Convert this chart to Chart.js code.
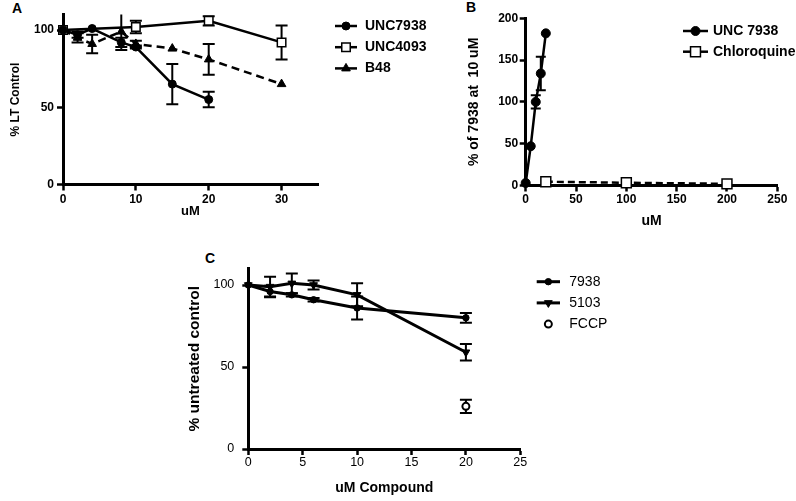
<!DOCTYPE html>
<html>
<head>
<meta charset="utf-8">
<script src="https://cdn.jsdelivr.net/npm/chart.js@4/dist/chart.umd.min.js"></script>
<style>
  body{margin:0;background:#fff;width:796px;height:501px;position:relative;overflow:hidden;
       font-family:"Liberation Sans",Arial,sans-serif}
  canvas{position:absolute}
  .tag{position:absolute;font-weight:bold;font-size:14px;line-height:14px;color:#000}
</style>
</head>
<body>
<div class="tag" style="left:12px;top:1px">A</div>
<div class="tag" style="left:466px;top:0px">B</div>
<div class="tag" style="left:205px;top:251px">C</div>
<canvas id="chartA" width="450" height="240" style="left:0;top:0;width:450px;height:240px"></canvas>
<canvas id="chartB" width="346" height="240" style="left:450px;top:0;width:346px;height:240px"></canvas>
<canvas id="chartC" width="616" height="261" style="left:180px;top:240px;width:616px;height:261px"></canvas>
<script>
/* ------------- Panel A : % LT Control ------------- */
const A_X_7938 = [0, 2, 4, 8, 10, 15, 20];
const A_Y_7938 = [100, 97, 101, 92, 89, 65, 55];
const A_E_7938 = [0, 2, 0, 3, 1, 13, 5];
const A_X_4093 = [0, 10, 20, 30];
const A_Y_4093 = [100, 102, 106, 92];
const A_E_4093 = [0, 4, 3, 11];
const A_X_B48  = [0, 2, 4, 8, 10, 15, 20, 30];
const A_Y_B48  = [100, 95, 91, 99, 91, 88, 81, 65];
const A_E_B48  = [0, 3, 6, 12, 2, 0, 10, 0];
const A_X_TICKS = [0, 10, 20, 30];
const A_Y_TICKS = [0, 50, 100];

/* ------------- Panel B : % of 7938 at 10 uM ------------- */
const B_X_7938 = [0, 5, 10, 15, 20];
const B_Y_7938 = [3, 47, 100, 134, 182];
const B_E_7938 = [0, 0, 8, 20, 0];
const B_X_CQ   = [20, 100, 200];
const B_Y_CQ   = [4.5, 3.3, 2];
const B_E_CQ   = [2, 0, 0];
const B_X_TICKS = [0, 50, 100, 150, 200, 250];
const B_Y_TICKS = [0, 50, 100, 150, 200];

/* ------------- Panel C : % untreated control ------------- */
const C_X      = [0, 2, 4, 6, 10, 20];
const C_Y_7938 = [100, 96, 94, 91, 86, 80];
const C_E_7938 = [0, 3.5, 1, 1, 7, 3];
const C_Y_5103 = [100, 99, 101, 100, 94, 59];
const C_E_5103 = [0, 6, 6, 2.7, 7, 5];
const C_X_FCCP = [20];
const C_Y_FCCP = [26];
const C_E_FCCP = [4];
const C_X_TICKS = [0, 5, 10, 15, 20, 25];
const C_Y_TICKS = [0, 50, 100];

const FONT = "'Liberation Sans', Arial, sans-serif";
const pts = (xs, ys) => xs.map((x, i) => ({x, y: ys[i]}));

/* error bars, drawn under the markers */
const errorBars = {
  id: "errorBars",
  beforeDatasetsDraw(chart){
    const {ctx, chartArea: ca, scales: {x, y}} = chart;
    ctx.save();
    ctx.beginPath();
    ctx.rect(ca.left - 30, ca.top, ca.right - ca.left + 60, ca.bottom - ca.top + 30);
    ctx.clip();
    ctx.strokeStyle = "#000";
    chart.data.datasets.forEach(ds => {
      if(!ds.errors) return;
      ctx.lineWidth = ds.errWidth || 2;
      const cap = ds.capHalf || 5;
      ds.data.forEach((p, i) => {
        const e = ds.errors[i];
        if(!e) return;
        const px = x.getPixelForValue(p.x);
        const t = y.getPixelForValue(p.y + e), b = y.getPixelForValue(p.y - e);
        ctx.beginPath();
        ctx.moveTo(px, t); ctx.lineTo(px, b);
        ctx.moveTo(px - cap, t); ctx.lineTo(px + cap, t);
        ctx.moveTo(px - cap, b); ctx.lineTo(px + cap, b);
        ctx.stroke();
      });
    });
    ctx.restore();
  }
};

/* legend at the side, line + marker + label */
const sideLegend = {
  id: "sideLegend",
  afterDraw(chart, args, o){
    const ctx = chart.ctx;
    chart.data.datasets.forEach((ds, i) => {
      const y = o.y + i * o.dy;
      const cx = (o.x0 + o.x1) / 2;
      ctx.save();
      if(ds.showLine !== false){
        ctx.strokeStyle = "#000";
        ctx.lineWidth = ds.borderWidth;
        ctx.beginPath(); ctx.moveTo(o.x0, y); ctx.lineTo(o.x1, y); ctx.stroke();
      }
      ctx.fillStyle = ds.pointBackgroundColor;
      ctx.strokeStyle = "#000";
      ctx.lineWidth = ds.pointBorderWidth;
      Chart.helpers.drawPoint(ctx, {
        pointStyle: ds.pointStyle, rotation: ds.pointRotation || 0,
        radius: ds.pointRadius, borderWidth: ds.pointBorderWidth
      }, cx, y);
      ctx.fillStyle = "#000";
      ctx.font = o.font;
      ctx.textBaseline = "middle";
      ctx.fillText(ds.label, o.tx, y);
      ctx.restore();
    });
  }
};

function axis(min, max, ticks, fit, title, tickFont, tickPad, titleFont, titlePad){
  return {
    type: "linear", min, max,
    afterBuildTicks: s => { s.ticks = ticks.map(v => ({value: v})); },
    afterFit: s => { if(s.isHorizontal()) s.height = fit; else s.width = fit; },
    grid: {drawOnChartArea: false, drawTicks: true, tickLength: 6, tickWidth: 2.5, tickColor: "#000"},
    border: {display: true, color: "#000", width: 3},
    ticks: {color: "#000", font: tickFont, padding: tickPad, autoSkip: false, maxRotation: 0},
    title: {display: true, text: title, color: "#000", font: titleFont, padding: titlePad}
  };
}

function baseOptions(padding, x, y, legend){
  return {
    responsive: false, animation: false, devicePixelRatio: 1,
    layout: {padding},
    plugins: {legend: {display: false}, tooltip: {enabled: false}, sideLegend: legend},
    scales: {x, y}
  };
}

/* ---------- A ---------- */
const boldA = {family: FONT, size: 12, weight: "bold"};
new Chart(document.getElementById("chartA"), {
  type: "scatter",
  data: {datasets: [
    {label: "UNC7938", data: pts(A_X_7938, A_Y_7938), errors: A_E_7938, capHalf: 6,
     showLine: true, borderColor: "#000", borderWidth: 2.5, clip: false,
     pointStyle: "circle", pointRadius: 4, pointBorderWidth: 1,
     pointBackgroundColor: "#000", pointBorderColor: "#000"},
    {label: "UNC4093", data: pts(A_X_4093, A_Y_4093), errors: A_E_4093, capHalf: 6,
     showLine: true, borderColor: "#000", borderWidth: 2.5, clip: false,
     pointStyle: "rect", pointRadius: 6, pointBorderWidth: 1.5,
     pointBackgroundColor: "#fff", pointBorderColor: "#000"},
    {label: "B48", data: pts(A_X_B48, A_Y_B48), errors: A_E_B48, capHalf: 6,
     showLine: true, borderColor: "#000", borderWidth: 2.5, borderDash: [8, 5], clip: false,
     pointStyle: "triangle", pointRadius: 5, pointBorderWidth: 1,
     pointBackgroundColor: "#000", pointBorderColor: "#000"}
  ]},
  options: baseOptions({left: 0, top: 14.6, right: 132, bottom: 0},
    axis(0, 35, A_X_TICKS, 55.5, "uM", boldA, 1.6,
         {family: FONT, size: 13, weight: "bold", lineHeight: 1}, {top: 0, bottom: 22.5}),
    axis(0, 110, A_Y_TICKS, 63, "% LT Control", boldA, 3,
         {family: FONT, size: 12, weight: "bold", lineHeight: 1}, {top: 10, bottom: 0}),
    {x0: 335, x1: 357, tx: 365, y: 26, dy: 21.2, font: "bold 14px " + FONT}),
  plugins: [errorBars, sideLegend]
});

/* ---------- B ---------- */
new Chart(document.getElementById("chartB"), {
  type: "scatter",
  data: {datasets: [
    {label: "UNC 7938", data: pts(B_X_7938, B_Y_7938), errors: B_E_7938, capHalf: 5,
     showLine: true, borderColor: "#000", borderWidth: 2.5, clip: false,
     pointStyle: "circle", pointRadius: 4.5, pointBorderWidth: 1,
     pointBackgroundColor: "#000", pointBorderColor: "#000"},
    {label: "Chloroquine", data: pts(B_X_CQ, B_Y_CQ), errors: B_E_CQ, capHalf: 4,
     showLine: true, borderColor: "#000", borderWidth: 2.5, borderDash: [7, 4], clip: false,
     pointStyle: "rect", pointRadius: 7, pointBorderWidth: 1.5,
     pointBackgroundColor: "#fff", pointBorderColor: "#000"}
  ]},
  options: baseOptions({left: 0, top: 18.3, right: 18.7, bottom: 0},
    axis(0, 250, B_X_TICKS, 54.5, "uM", boldA, 1.3,
         {family: FONT, size: 14, weight: "bold", lineHeight: 1}, {top: 0, bottom: 12.3}),
    axis(0, 200, B_Y_TICKS, 75.7, "% of 7938 at  10 uM", boldA, 1.5,
         {family: FONT, size: 14, weight: "bold", lineHeight: 1}, {top: 17, bottom: 0}),
    {x0: 233, x1: 258, tx: 263, y: 31, dy: 20.7, font: "bold 14px " + FONT}),
  plugins: [errorBars, sideLegend]
});

/* ---------- C ---------- */
const regC = {family: FONT, size: 12.5};
new Chart(document.getElementById("chartC"), {
  type: "scatter",
  data: {datasets: [
    {label: "7938", data: pts(C_X, C_Y_7938), errors: C_E_7938, capHalf: 6,
     showLine: true, borderColor: "#000", borderWidth: 3, clip: false,
     pointStyle: "circle", pointRadius: 3.2, pointBorderWidth: 1,
     pointBackgroundColor: "#000", pointBorderColor: "#000"},
    {label: "5103", data: pts(C_X, C_Y_5103), errors: C_E_5103, capHalf: 6,
     showLine: true, borderColor: "#000", borderWidth: 3, clip: false,
     pointStyle: "triangle", pointRotation: 180, pointRadius: 4.5, pointBorderWidth: 1,
     pointBackgroundColor: "#000", pointBorderColor: "#000"},
    {label: "FCCP", data: pts(C_X_FCCP, C_Y_FCCP), errors: C_E_FCCP, capHalf: 6,
     showLine: false, borderColor: "#000", borderWidth: 3, clip: false,
     pointStyle: "circle", pointRadius: 3.5, pointBorderWidth: 2,
     pointBackgroundColor: "#fff", pointBorderColor: "#000"}
  ]},
  options: baseOptions({left: 0, top: 28.6, right: 275.7, bottom: 0},
    axis(0, 25, C_X_TICKS, 52, "uM Compound", regC, 0.5,
         {family: FONT, size: 14, weight: "bold", lineHeight: 1}, {top: 0, bottom: 6}),
    axis(0, 110, C_Y_TICKS, 68.3, "% untreated control", regC, 8,
         {family: FONT, size: 15.5, weight: "bold", lineHeight: 1}, {top: 7.2, bottom: 0}),
    {x0: 356.7, x1: 380, tx: 389.3, y: 41.7, dy: 21.2, font: "14px " + FONT}),
  plugins: [errorBars, sideLegend]
});
</script>
</body>
</html>
